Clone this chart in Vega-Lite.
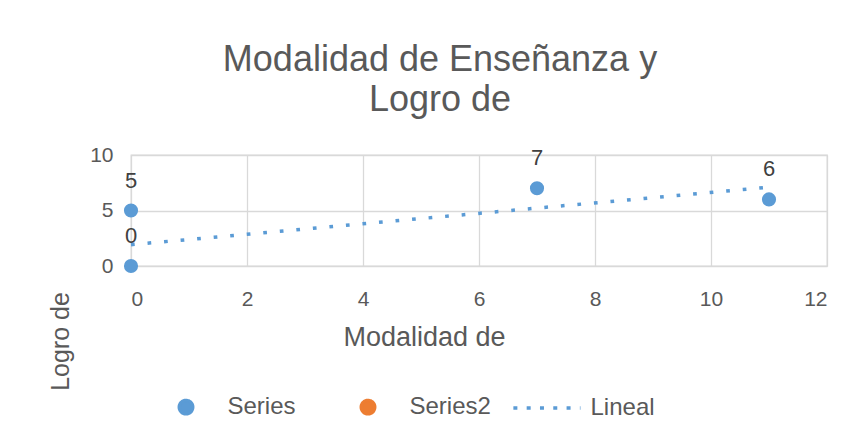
{
  "$schema": "https://vega.github.io/schema/vega-lite/v6.json",
  "width": 696,
  "height": 111,
  "autosize": "none",
  "padding": {"left": 131, "top": 155, "right": 31, "bottom": 173},
  "background": "white",
  "config": {
    "font": "Liberation Sans",
    "view": {"stroke": "#d9d9d9", "strokeWidth": 1.3},
    "axis": {"gridColor": "#d9d9d9", "gridWidth": 1.3, "domain": false, "ticks": false, "labelFont": "Liberation Sans", "labelFontSize": 21, "labelColor": "#595959", "titleFont": "Liberation Sans", "titleFontSize": 27, "titleFontWeight": "normal", "titleColor": "#595959"}
  },
  "title": {"text": ["Modalidad de Enseñanza y", "Logro de"], "font": "Liberation Sans", "fontSize": 36, "fontWeight": "normal", "color": "#595959", "anchor": "middle", "frame": "group", "dx": -39, "offset": 25, "lineHeight": 40},
  "datasets": {
    "pts": [
      {"x": 0, "y": 0, "series": "Series"},
      {"x": 0, "y": 5, "series": "Series"},
      {"x": 7, "y": 7, "series": "Series"},
      {"x": 11, "y": 6, "series": "Series"}
    ],
    "trend": [
      {"x": 0, "y": 1.92, "series": "Lineal"},
      {"x": 11, "y": 7.1, "series": "Lineal"}
    ]
  },
  "encoding": {
    "x": {"field": "x", "type": "quantitative", "scale": {"domain": [0, 12], "nice": false}, "axis": {"values": [0, 2, 4, 6, 8, 10, 12], "labelPadding": 22, "title": "Modalidad de", "titleX": 293, "titleY": 79, "titleBaseline": "alphabetic", "titleAlign": "center"}},
    "y": {"field": "y", "type": "quantitative", "scale": {"domain": [0, 10], "nice": false}, "axis": {"values": [0, 5, 10], "labelPadding": 18, "title": "Logro de", "titleFontSize": 25, "titleX": -63, "titleY": 186, "titleAngle": 270, "titleAlign": "center", "titleBaseline": "alphabetic"}}
  },
  "layer": [
    {
      "data": {"name": "trend"},
      "mark": {"type": "line", "strokeWidth": 3.5, "strokeDash": [3.7, 12.9], "strokeCap": "butt"},
      "encoding": {
        "color": {"field": "series", "type": "nominal", "scale": {"domain": ["Series", "Series2", "Lineal"], "range": ["#5b9bd5", "#ed7d31", "#5b9bd5"]},
          "legend": {"title": null, "orient": "none", "direction": "horizontal", "legendX": 43, "legendY": 240, "labelFontSize": 24, "labelColor": "#595959", "labelFont": "Liberation Sans", "labelOffset": 29.5, "columnPadding": 15, "symbolSize": 180,
            "encode": {
              "symbols": {"update": {
                "shape": {"signal": "datum.value === 'Lineal' ? 'M-7.1,0L2.9,0' : 'circle'"},
                "fill": {"signal": "datum.value === 'Lineal' ? 'transparent' : (datum.value === 'Series2' ? '#ed7d31' : '#5b9bd5')"},
                "stroke": {"signal": "datum.value === 'Lineal' ? '#5b9bd5' : 'transparent'"},
                "strokeWidth": {"value": 3.5},
                "strokeDash": {"signal": "datum.value === 'Lineal' ? [4, 9.3] : [1, 0]"},
                "opacity": {"value": 1}
              }},
              "labels": {"update": {
                "text": {"signal": "datum.value === 'Series' ? 'Series\u2800\u2009\u200a\u2800' : datum.value"},
                "dx": {"signal": "datum.value === 'Lineal' ? -12 : 0"}
              }}
            }
          }
        }
      }
    },
    {
      "data": {"name": "pts"},
      "mark": {"type": "point", "filled": true, "size": 200, "opacity": 1},
      "encoding": {"color": {"field": "series", "type": "nominal"}}
    },
    {
      "data": {"name": "pts"},
      "mark": {"type": "text", "dy": -30, "fontSize": 22, "color": "#404040", "font": "Liberation Sans"},
      "encoding": {"text": {"field": "y", "type": "quantitative"}}
    }
  ]
}
